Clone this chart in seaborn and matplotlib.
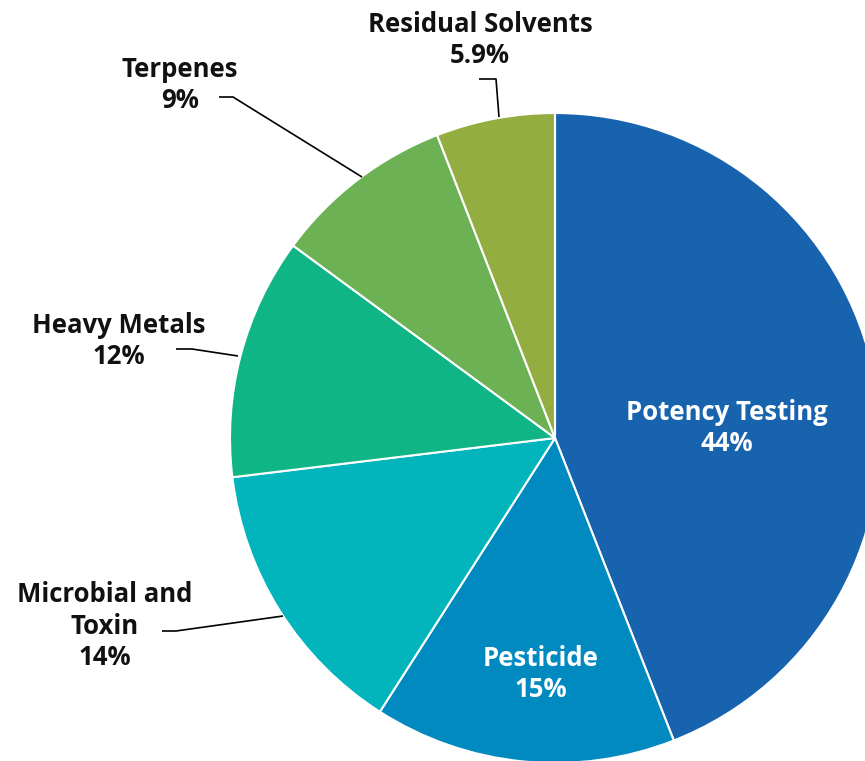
import matplotlib
matplotlib.use("Agg")
import matplotlib.pyplot as plt
import seaborn as sns

# data
categories = ["Potency Testing", "Pesticide", "Microbial and\nToxin", "Heavy Metals",
              "Terpenes", "Residual Solvents"]
shares = [44, 15, 14, 12, 9, 5.9]
share_labels = ["44%", "15%", "14%", "12%", "9%", "5.9%"]
colors = ["#1763AE", "#008AC0", "#02B5BD", "#0FB585", "#6CB255", "#94AD41"]

sns.set_style("white")
plt.rcParams["font.family"] = ["Open Sans", "DejaVu Sans"]

W, H = 865, 761
fig = plt.figure(figsize=(W / 100, H / 100), dpi=100)
ax = fig.add_axes([0, 0, 1, 1])

# pie centre/radius in pixel coords; y axis is flipped, so start at -90 (top)
# and go "counterclockwise" in data space, which reads clockwise on screen
cx, cy, r = 555, 438, 325
ax.pie(shares, colors=colors, startangle=-90, counterclock=True,
       center=(cx, cy), radius=r, frame=True,
       wedgeprops=dict(edgecolor="white", linewidth=1.5))
ax.set_xlim(0, W)
ax.set_ylim(H, 0)
ax.set_aspect("equal")
ax.axis("off")

fs = 18.5
ls = 1.2
# inside labels
inside = {0: (727, 428), 1: (541, 674)}
for i, (x, y) in inside.items():
    ax.text(x, y, f"{categories[i]}\n{share_labels[i]}", ha="center", va="center",
            color="white", fontsize=fs, fontweight="bold", linespacing=ls)

# outside labels with leader lines
outside = {
    2: ((105, 626), [(162, 631), (176, 631), (283, 616)]),
    3: ((119, 341), [(176, 349), (192, 349), (238, 356)]),
    4: ((180, 85), [(219, 97), (233, 97), (362, 177)]),
    5: ((480, 40), [(479, 79), (496, 79), (499, 117)]),
}
for i, ((x, y), pts) in outside.items():
    ax.text(x, y, f"{categories[i]}\n{share_labels[i]}", ha="center", va="center",
            color="#111111", fontsize=fs, fontweight="bold", linespacing=ls)
    xs, ys = zip(*pts)
    ax.plot(xs, ys, color="black", linewidth=1.2, solid_capstyle="butt")

fig.savefig("out.png", dpi=100)
